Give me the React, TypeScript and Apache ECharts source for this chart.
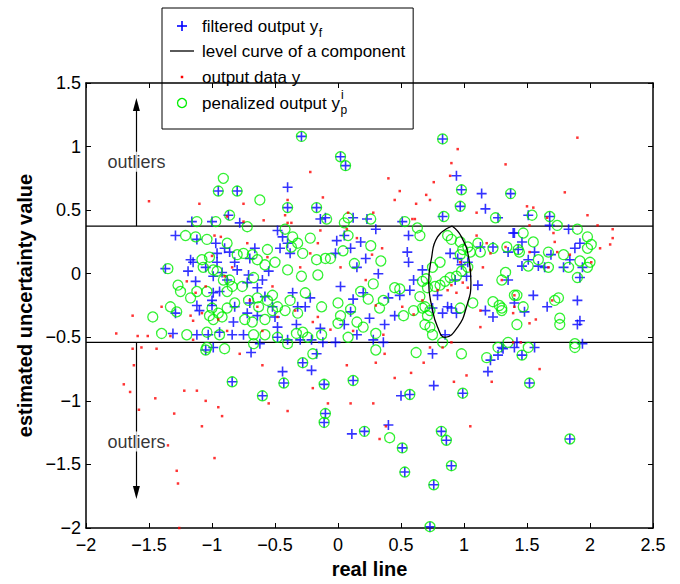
import React, { useEffect, useRef } from "react";
import * as echarts from "echarts";

const FONT = '"Liberation Sans", Arial, Helvetica, sans-serif';

const xRange = [-2, 2.5];
const yRange = [-2, 1.5];
const tickStep = 0.5;
const thresholds = [0.375, -0.54];
const xTitle = "real line";
const yTitle = "estimated uncertainty value";
const legendLabels = ["filtered output y", "level curve of a component", "output data y", "penalized output y"];

const levelCurve: number[][] = [
  [0.905, 0.375], [0.98, 0.29], [1.04, 0.11], [1.055, -0.07], [1.02, -0.26], [0.95, -0.42], [0.85, -0.5],
  [0.79, -0.42], [0.745, -0.26], [0.72, -0.07], [0.74, 0.11], [0.79, 0.29], [0.905, 0.375],
];

const filteredOutput: number[][] = [
  [-0.29, 1.08], [0.83, 1.06], [0.02, 0.92], [0.06, 0.85], [-0.95, 0.65], [-0.8, 0.65], [-0.4, 0.68], [0.94, 0.77],
  [0.98, 0.66], [1.14, 0.63], [1.37, 0.63], [1.17, 0.51], [1.68, 0.45], [-0.17, 0.52],
  [-1.16, 0.41], [-1.0, 0.41], [-0.78, 0.4], [-0.4, 0.52], [-0.14, 0.43], [-0.87, 0.46], [0.97, 0.53], [0.83, 0.45],
  [0.51, 0.41], [1.51, 0.46], [1.68, 0.38], [1.83, 0.35], [0.23, 0.43], [0.12, 0.44], [1.27, 0.44], [-0.1, 0.44],
  [-1.29, 0.3], [-1.12, 0.27], [-0.97, 0.24], [-0.48, 0.34], [-0.44, 0.29], [-0.4, 0.24], [-0.46, 0.2], [-0.38, 0.16],
  [-0.01, 0.26], [-0.02, 0.16], [-0.96, 0.16], [-0.96, 0.09], [-0.86, 0.17], [-0.82, 0.09], [-0.8, 0.03], [-1.17, 0.11],
  [-1.15, 0.09], [-1.37, 0.04], [-1.19, 0.02], [-1.13, -0.06], [-0.99, -0.02], [-0.92, 0.01], [-0.71, -0.01],
  [-0.72, -0.07], [-0.64, -0.11], [-0.6, -0.05], [-0.99, -0.15], [-1.0, -0.21], [-1.0, -0.25], [-0.94, -0.14],
  [-1.12, -0.25], [-1.29, -0.31], [-1.1, -0.29], [-0.82, -0.26], [-0.72, -0.31], [-0.64, -0.33], [-0.7, -0.23],
  [-0.5, -0.34], [-0.83, -0.38], [-0.48, -0.42], [-0.36, -0.15], [-0.22, -0.19], [-0.32, -0.26], [-0.26, -0.26],
  [-0.33, -0.4], [-0.14, -0.43], [-1.31, -0.47], [-1.12, -0.48], [-1.03, -0.48], [-0.94, -0.46], [-0.84, -0.48],
  [-0.75, -0.48], [-0.62, -0.55], [-0.48, -0.5], [-0.4, -0.52], [-0.3, -0.52], [-0.21, -0.52], [-0.12, -0.54],
  [-0.02, -0.54], [-0.99, -0.58], [-0.17, -0.63],
  [-0.9, 0.2], [-0.7, 0.12], [-0.55, 0.02], [-0.58, -0.18], [-0.88, -0.05], [-1.05, 0.05], [-0.66, 0.2], [-0.52, -0.26],
  [0.05, 0.3], [0.1, 0.2], [0.15, 0.05], [0.2, -0.15], [0.1, -0.3], [0.05, -0.4], [0.15, -0.48], [0.28, -0.52],
  [0.22, 0.12], [0.3, 0.35], [0.12, -0.2], [0.25, -0.35], [0.32, 0.0], [0.02, -0.1], [0.18, 0.25],
  [0.56, 0.3], [0.55, 0.17], [0.56, 0.09], [0.67, 0.03], [0.89, 0.16], [0.95, 0.12], [1.13, 0.21], [1.23, 0.21],
  [1.39, 0.32], [1.11, -0.09], [1.17, -0.29], [1.23, -0.34], [0.37, -0.4], [0.45, -0.33], [0.79, -0.17], [0.87, -0.26],
  [0.9, -0.27], [0.83, -0.31], [0.94, -0.31], [0.75, -0.27], [0.57, -0.13], [0.49, -0.17], [0.4, -0.19], [0.85, -0.48],
  [0.36, -0.54], [0.75, -0.63], [1.4, -0.58], [1.31, -0.59], [0.93, -0.05], [1.02, -0.02], [1.03, 0.09], [1.43, 0.19],
  [0.6, -0.05], [0.98, 0.07],
  [1.4, 0.32], [1.46, 0.25], [1.35, 0.17], [1.56, 0.17], [1.69, 0.15], [1.51, 0.11], [1.46, 0.06], [1.59, 0.06],
  [1.64, 0.05], [1.79, 0.05], [1.84, 0.11], [1.88, 0.2], [1.92, 0.24], [1.94, 0.05], [1.92, -0.03], [1.35, -0.05],
  [1.55, -0.17], [1.66, -0.26], [1.4, -0.23], [1.48, -0.3], [1.9, -0.21], [1.92, -0.37], [1.9, -0.4], [1.42, -0.54],
  [1.56, -0.58], [1.94, -0.55], [1.46, -0.64], [1.3, -0.58],
  [-1.05, -0.6], [-0.69, -0.62], [-0.84, -0.85], [-0.6, -0.96], [-0.43, -0.86], [-0.44, -0.77], [-0.21, -0.76],
  [-0.11, -0.87], [-0.1, -1.1], [-0.11, -1.17], [0.11, -1.26], [0.21, -1.24], [0.4, -1.19], [0.51, -1.37],
  [0.53, -1.56], [0.57, -0.95], [0.5, -0.96], [0.12, -0.84], [0.76, -0.88], [0.82, -1.24], [0.86, -1.31],
  [0.9, -1.51], [0.76, -1.66], [0.73, -1.99], [0.99, -0.94], [1.19, -0.77], [1.21, -0.68], [1.27, -0.64],
  [1.52, -0.86], [1.84, -1.3], [-0.28, -0.7],
];

const penalizedOutput: number[][] = [
  [-0.29, 1.08], [0.83, 1.06], [0.02, 0.92], [0.06, 0.85], [-0.91, 0.75], [-0.95, 0.65], [-0.8, 0.65], [-0.62, 0.58],
  [0.98, 0.66], [1.37, 0.63], [-0.17, 0.52], [1.68, 0.45],
  [-1.12, 0.41], [-0.97, 0.41], [-0.72, 0.37], [-0.4, 0.52], [-0.09, 0.43], [-0.86, 0.46], [0.97, 0.53], [0.84, 0.45],
  [0.53, 0.41], [1.54, 0.46], [1.74, 0.38], [1.9, 0.35], [1.25, 0.44], [0.26, 0.43], [0.08, 0.44],
  [-1.21, 0.3], [-1.13, 0.29], [-1.04, 0.27], [-0.88, 0.24], [-0.42, 0.35], [-0.36, 0.29], [-0.32, 0.24], [-0.37, 0.21],
  [-0.22, 0.28], [-0.28, 0.16], [-0.17, 0.11], [-0.1, 0.12], [-0.06, 0.12], [-0.75, 0.16], [-0.68, 0.15], [-0.8, 0.15],
  [-0.64, 0.11], [-0.56, 0.19], [-0.58, 0.07], [-0.5, 0.09], [-0.4, 0.03], [-0.29, -0.02], [-0.16, -0.01],
  [-1.02, 0.13], [-1.08, 0.11], [-1.07, 0.05], [-0.99, 0.03], [-0.96, 0.02], [-0.91, -0.05], [-0.86, -0.05],
  [-0.84, -0.1], [-0.76, -0.1], [-0.67, -0.03], [-1.35, 0.04], [-1.27, -0.09], [-1.25, -0.14], [-1.12, -0.14],
  [-1.04, -0.14], [-1.17, -0.19], [-0.88, -0.14], [-1.33, -0.26], [-1.28, -0.3], [-1.47, -0.34], [-1.0, -0.27],
  [-1.02, -0.33], [-0.95, -0.31], [-0.88, -0.27], [-0.82, -0.23], [-0.71, -0.21], [-0.64, -0.19], [-0.63, -0.26],
  [-0.56, -0.21], [-0.52, -0.17], [-0.48, -0.26], [-0.42, -0.29], [-0.52, -0.29], [-0.38, -0.21], [-0.32, -0.31],
  [-0.26, -0.15], [-0.13, -0.26], [-0.99, -0.36], [-0.92, -0.34], [-0.74, -0.36], [-0.68, -0.38], [-0.58, -0.36],
  [-1.4, -0.47], [-1.2, -0.48], [-1.04, -0.46], [-0.94, -0.48], [-0.67, -0.48], [-0.58, -0.48], [-0.48, -0.5],
  [-0.33, -0.47], [-0.28, -0.46], [-0.24, -0.5], [-0.13, -0.48], [0.0, -0.39], [0.0, -0.23], [-0.67, -0.55],
  [-0.4, -0.55], [-1.04, -0.58], [-0.9, -0.59], [-0.2, -0.63],
  [0.08, 0.3], [0.04, 0.18], [0.13, 0.08], [0.18, -0.14], [0.24, -0.2], [0.1, -0.28], [0.02, -0.33], [0.2, -0.42],
  [0.3, -0.47], [0.08, -0.5], [0.26, 0.22], [0.34, 0.1], [0.28, -0.08], [0.15, -0.38], [0.05, 0.4],
  [0.63, 0.36], [0.65, 0.3], [0.87, 0.3], [0.9, 0.27], [0.97, 0.25], [1.03, 0.21], [0.99, 0.19], [0.97, 0.15],
  [1.05, 0.17], [1.13, 0.17], [1.11, 0.24], [1.23, 0.2], [1.34, 0.21], [1.43, 0.19], [0.81, 0.09], [0.75, 0.05],
  [1.03, 0.05], [0.98, 0.02], [0.94, -0.02], [0.89, -0.03], [0.85, -0.06], [0.81, -0.09], [0.77, -0.1], [0.71, -0.11],
  [0.67, -0.06], [0.7, -0.04], [0.45, -0.11], [0.49, -0.12], [0.36, -0.21], [0.65, -0.18], [0.69, -0.26],
  [0.73, -0.29], [0.67, -0.27], [0.71, -0.33], [0.52, -0.33], [0.6, -0.29], [0.97, -0.27], [1.07, -0.23],
  [1.23, -0.22], [1.3, -0.29], [1.28, -0.25], [0.69, -0.4], [0.73, -0.42], [0.75, -0.48], [0.83, -0.54],
  [1.27, -0.58], [1.18, -0.66], [0.98, -0.63], [1.42, -0.4], [1.33, 0.01], [1.42, -0.17], [0.33, -0.27],
  [1.47, 0.32], [1.55, 0.25], [1.44, 0.17], [1.67, 0.17], [1.79, 0.15], [1.98, 0.29], [2.01, 0.23], [1.98, 0.2],
  [1.92, 0.1], [2.0, 0.09], [1.59, 0.11], [1.51, 0.06], [1.67, 0.05], [1.83, 0.05], [1.98, 0.05], [1.9, -0.03],
  [1.3, -0.05], [1.4, -0.17], [1.47, -0.26], [1.72, -0.21], [1.75, -0.19], [1.76, -0.35], [1.76, -0.4], [1.35, -0.54],
  [1.51, -0.58], [1.88, -0.55], [1.46, -0.64], [1.3, -0.27],
  [-1.05, -0.6], [-0.84, -0.85], [-0.6, -0.96], [-0.43, -0.86], [-0.11, -0.87], [-0.1, -1.1], [-0.11, -1.17],
  [0.21, -1.24], [0.41, -1.29], [0.51, -1.37], [0.53, -1.56], [0.57, -0.95], [0.12, -0.84], [0.82, -1.24],
  [0.86, -1.31], [0.9, -1.51], [0.76, -1.66], [0.73, -1.99], [0.99, -0.94], [1.52, -0.86], [1.84, -1.3],
  [1.88, -0.58], [-0.28, -0.7], [0.3, -0.6], [0.62, -0.62],
];

const outputData: number[][] = [
  [-1.63, -0.33], [-1.4, -0.26], [-1.76, -0.47], [-1.59, -0.49], [-1.51, -0.49], [-1.63, -0.59], [-1.56, -0.58],
  [-1.44, -0.59], [-1.33, -0.49], [-0.98, 0.3], [-0.93, 0.29], [-0.72, 0.24], [-0.59, 0.42], [-0.75, 0.41],
  [-0.42, 0.46], [-0.37, 0.4], [-0.14, 0.34], [-0.16, 0.24], [-0.22, 0.16], [-1.2, -0.06], [-1.13, -0.15],
  [-1.17, -0.33], [-1.15, -0.37], [-1.08, -0.31], [-0.95, -0.36], [-0.64, -0.26], [-0.7, -0.21], [-0.48, -0.34],
  [-0.34, -0.29], [-0.2, -0.38], [-0.16, -0.34], [-0.06, -0.44], [-0.78, -0.63], [-1.15, -0.52], [-0.4, 0.4],
  [-0.56, 0.13], [-0.84, 0.05], [-1.05, -0.1], [-0.9, -0.02], [-0.52, -0.1], [-0.3, 0.05], [-0.6, -0.45],
  [-0.88, -0.45], [-1.0, 0.14],
  [0.07, 0.35], [0.15, 0.28], [0.22, -0.05], [0.3, -0.25], [0.12, -0.45], [0.35, 0.2], [0.02, 0.05], [0.27, 0.15],
  [0.59, 0.43], [0.61, 0.43], [1.1, 0.3], [1.18, 0.24], [1.21, 0.16], [1.15, 0.05], [1.05, 0.03], [1.03, -0.11],
  [1.3, -0.05], [1.13, -0.29], [1.13, -0.42], [0.6, -0.32], [0.51, -0.26], [0.79, -0.13], [0.9, -0.09],
  [0.73, -0.58], [0.9, -0.54], [0.83, -0.58], [0.37, -0.63], [0.36, -0.48], [1.39, -0.31], [0.67, -0.21],
  [0.45, 0.58], [0.73, 0.58], [0.97, 0.09], [0.99, -0.07], [0.87, -0.13], [0.94, -0.15],
  [1.8, 0.64], [1.5, 0.53], [1.98, 0.46], [1.66, 0.44], [2.06, 0.38], [2.18, 0.35], [2.18, 0.28], [2.16, 0.23],
  [2.08, 0.2], [1.72, 0.25], [1.71, 0.32], [1.52, 0.38], [1.33, 0.21], [1.52, 0.17], [1.74, 0.17], [1.84, 0.15],
  [1.67, 0.05], [2.01, 0.09], [1.4, -0.17], [1.7, -0.21], [1.4, -0.26], [1.57, -0.36], [1.52, -0.39], [1.39, -0.54],
  [1.45, -0.54],
  [1.9, 1.07], [0.95, 0.98], [0.9, 0.87], [0.89, 0.77], [0.49, 0.65], [0.62, 0.55], [0.7, 0.62], [-0.75, 0.55],
  [-0.4, 0.58], [0.28, 0.48], [1.1, 0.48], [1.55, 0.52], [-1.5, 0.57], [-0.88, 0.45], [0.08, 0.48], [-0.12, 0.6],
  [1.33, 0.86], [0.76, 0.72], [-0.22, 0.8], [0.4, 0.75], [-1.1, 0.55],
  [-1.7, -0.87], [-1.65, -0.93], [-1.58, -1.07], [-1.45, -0.98], [-1.3, -1.1], [-1.35, -1.35], [-1.28, -1.55],
  [-1.27, -1.65], [-1.26, -2.0], [-1.22, -0.92], [-1.12, -0.92], [-1.08, -1.2], [-1.05, -1.0], [-0.95, -1.05],
  [-0.92, -1.12], [-0.98, -1.45], [-0.6, -0.72], [-0.55, -1.02], [-0.4, -1.08], [-0.08, -1.02], [0.07, -0.72],
  [0.1, -1.02], [0.28, -1.02], [0.33, -1.3], [0.38, -1.2], [0.3, -0.7], [0.58, -0.78], [0.68, -0.7], [0.92, -0.85],
  [1.02, -0.8], [1.05, -1.2], [1.22, -0.85], [1.6, -0.75], [-1.62, -0.72], [-0.2, -0.9], [0.45, -0.82],
];

const arrowX = -1.6;
const arrowSegments = [[0.375, 1.33], [-0.54, -1.72]];
const outlierLabelY = [0.88, -1.32];
const outlierText = "outliers";

const fmt = (v: number) => String(v).replace("-", "\u2212");

function measure(s: string, size: number): number {
  const c = document.createElement("canvas").getContext("2d");
  if (!c) return s.length * size * 0.5;
  c.font = `${size}px "Liberation Sans", Arial, sans-serif`;
  return c.measureText(s).width;
}

export default function App() {
  const ref = useRef<HTMLDivElement>(null);
  useEffect(() => {
    document.body.style.margin = "0";
    if (!ref.current) return;
    const chart = echarts.init(ref.current, undefined, { renderer: "svg" });

    const lfs = 17;
    const rows = [26, 51, 77, 103];
    const tx = 202;
    const boxRight = tx + measure(legendLabels[1], lfs) + 8;
    const w0 = measure(legendLabels[0], lfs);
    const w3 = measure(legendLabels[3], lfs);
    const txtStyle = (t: string, size: number) => ({ text: t, fontSize: size, fontFamily: FONT, fill: "#000", verticalAlign: "middle", align: "left" });

    const axisCommon = {
      type: "value" as const,
      interval: tickStep,
      splitLine: { show: false },
      axisLine: { show: true, onZero: false, lineStyle: { color: "#000", width: 1.5 } },
      axisTick: { show: true, inside: true, length: 5, lineStyle: { color: "#000", width: 1 } },
    };

    const option: any = {
      animation: false,
      grid: { left: 86, top: 83, right: 27, bottom: 56, containLabel: false },
      xAxis: [
        {
          ...axisCommon, min: xRange[0], max: xRange[1], position: "bottom",
          axisLabel: { color: "#000", fontSize: 18, fontFamily: FONT, margin: 8, formatter: fmt },
          name: xTitle, nameLocation: "middle", nameGap: 30,
          nameTextStyle: { color: "#000", fontSize: 20, fontWeight: "bold", fontFamily: FONT },
        },
        { ...axisCommon, min: xRange[0], max: xRange[1], position: "top", axisLabel: { show: false } },
      ],
      yAxis: [
        {
          ...axisCommon, min: yRange[0], max: yRange[1], position: "left",
          axisLabel: { color: "#000", fontSize: 18, fontFamily: FONT, margin: 5, formatter: fmt },
          name: yTitle, nameLocation: "middle", nameGap: 42,
          nameTextStyle: { color: "#000", fontSize: 20, fontWeight: "bold", fontFamily: FONT },
        },
        { ...axisCommon, min: yRange[0], max: yRange[1], position: "right", axisLabel: { show: false } },
      ],
      series: [
        ...thresholds.map((t) => ({
          type: "line", data: [[xRange[0], t], [xRange[1], t]], symbol: "none", silent: true,
          lineStyle: { color: "#000", width: 1.2 }, z: 1,
        })),
        {
          type: "scatter", data: filteredOutput, symbol: "path://M5,0L5,10M0,5L10,5", symbolSize: 10,
          itemStyle: { color: "rgba(0,0,0,0)", borderColor: "#0000ff", borderWidth: 1.6 }, z: 2,
        },
        {
          type: "scatter", data: penalizedOutput, symbol: "circle", symbolSize: 10,
          itemStyle: { color: "rgba(0,0,0,0)", borderColor: "#00ee00", borderWidth: 1.3 }, z: 3,
        },
        {
          type: "scatter", data: outputData, symbol: "rect", symbolSize: 2.5,
          itemStyle: { color: "#ff0000" }, z: 4,
        },
        {
          type: "line", data: levelCurve, symbol: "none", smooth: 0.5, silent: true,
          lineStyle: { color: "#000", width: 1.3 }, z: 5,
        },
        {
          type: "scatter", data: [], z: 6, silent: true,
          markLine: {
            silent: true, symbol: ["none", "triangle"], symbolSize: [7, 13], precision: 3,
            label: { show: false },
            lineStyle: { color: "#000", width: 1.2, type: "solid" },
            emphasis: { disabled: true },
            data: arrowSegments.map(([a, b]) => [{ coord: [arrowX, a] }, { coord: [arrowX, b] }]),
          },
        },
        {
          type: "scatter", data: outlierLabelY.map((y) => [arrowX, y]), symbolSize: 1, silent: true, z: 8,
          itemStyle: { color: "rgba(0,0,0,0)" },
          label: {
            show: true, position: "inside", formatter: outlierText, color: "#000", fontSize: 18, fontFamily: FONT,
            backgroundColor: "#fff", padding: [1, 1],
          },
        },
      ],
      graphic: [
        {
          type: "group", z: 100,
          children: [
            { type: "rect", shape: { x: 162, y: 8, width: boxRight - 162, height: 121 }, style: { fill: "#fff", stroke: "#000", lineWidth: 1 } },
            { type: "line", shape: { x1: 177, y1: rows[0], x2: 187, y2: rows[0] }, style: { stroke: "#0000ff", lineWidth: 1.6 } },
            { type: "line", shape: { x1: 182, y1: rows[0] - 5, x2: 182, y2: rows[0] + 5 }, style: { stroke: "#0000ff", lineWidth: 1.6 } },
            { type: "line", shape: { x1: 170, y1: rows[1], x2: 194, y2: rows[1] }, style: { stroke: "#000", lineWidth: 1.3 } },
            { type: "rect", shape: { x: 180.75, y: rows[2] - 1.25, width: 2.5, height: 2.5 }, style: { fill: "#ff0000" } },
            { type: "circle", shape: { cx: 182, cy: rows[3], r: 4.5 }, style: { fill: "none", stroke: "#00ee00", lineWidth: 1.3 } },
            { type: "text", x: tx, y: rows[0], style: txtStyle(legendLabels[0], lfs) },
            { type: "text", x: tx + w0 + 0.5, y: rows[0] + 7, style: txtStyle("f", 12) },
            { type: "text", x: tx, y: rows[1], style: txtStyle(legendLabels[1], lfs) },
            { type: "text", x: tx, y: rows[2], style: txtStyle(legendLabels[2], lfs) },
            { type: "text", x: tx, y: rows[3], style: txtStyle(legendLabels[3], lfs) },
            { type: "text", x: tx + w3 + 1, y: rows[3] - 8, style: txtStyle("i", 12) },
            { type: "text", x: tx + w3 + 0.5, y: rows[3] + 7, style: txtStyle("p", 12) },
          ],
        },
      ],
    };
    chart.setOption(option);
    return () => chart.dispose();
  }, []);
  return <div ref={ref} style={{ width: 680, height: 584 }} />;
}
